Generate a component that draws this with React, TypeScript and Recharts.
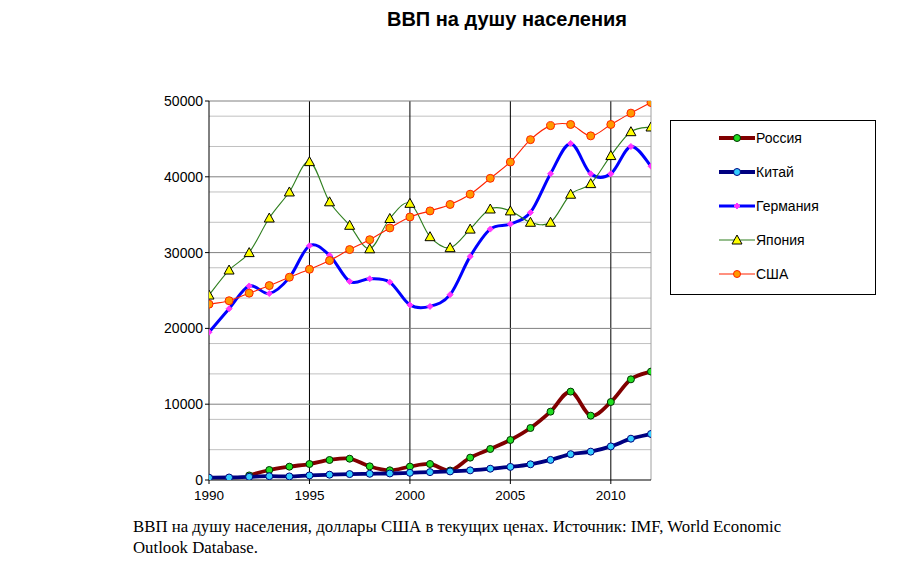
import React from "react";
import {
  LineChart,
  Line,
  XAxis,
  YAxis,
  CartesianGrid,
  ReferenceLine,
} from "recharts";

const years = [
  1990, 1991, 1992, 1993, 1994, 1995, 1996, 1997, 1998, 1999, 2000, 2001, 2002,
  2003, 2004, 2005, 2006, 2007, 2008, 2009, 2010, 2011, 2012,
];
const russia = [
  null, null, 600, 1320, 1760, 2110, 2640, 2810, 1800, 1280, 1770, 2110, 1250,
  2950, 4090, 5280, 6860, 9020, 11660, 8490, 10290, 13280, 14300,
];
const china = [
  310, 330, 420, 500, 470, 600, 700, 780, 820, 860, 950, 1040, 1130, 1270, 1490,
  1730, 2070, 2650, 3410, 3740, 4430, 5450, 6070,
];
const germany = [
  19500, 22600, 25600, 24600, 26700, 30900, 29650, 26200, 26550, 26100, 23100,
  22900, 24450, 29500, 33100, 33770, 35300, 40400, 44400, 40400, 40400, 44000,
  41400,
];
const japan = [
  24400, 27700, 30000, 34560, 38000, 42000, 36700, 33600, 30500, 34500, 36500,
  32100, 30650, 33100, 35750, 35500, 34000, 34000, 37700, 39100, 42800, 45950,
  46570,
];
const usa = [
  23200, 23650, 24650, 25650, 26750, 27800, 28950, 30400, 31700, 33250, 34700,
  35500, 36350, 37700, 39800, 41950, 44900, 46750, 46900, 45400, 46900, 48400,
  49800,
];

const xTicks = [1990, 1995, 2000, 2005, 2010];
const yTicks = [0, 10000, 20000, 30000, 40000, 50000];
const minorGrid = [
  2000, 4000, 6000, 8000, 12000, 14000, 16000, 18000, 22000, 24000, 26000,
  28000, 32000, 34000, 36000, 38000, 42000, 44000, 46000, 48000,
];
const majorGrid = [10000, 20000, 30000, 40000, 50000];

const seriesNames = ["Россия", "Китай", "Германия", "Япония", "США"];
const title = "ВВП на душу населения";
const caption1 =
  "ВВП на душу населения, доллары США в текущих ценах. Источник: IMF, World Economic";
const caption2 = "Outlook Database.";

const data = years.map((y, i) => ({
  year: y,
  russia: russia[i],
  china: china[i],
  germany: germany[i],
  japan: japan[i],
  usa: usa[i],
}));

// Catmull-Rom (Excel-like smoothing) curve factory
function smoothCurve(context: any) {
  let pts: number[][] = [];
  return {
    areaStart() {},
    areaEnd() {},
    lineStart() {
      pts = [];
    },
    lineEnd() {
      const n = pts.length;
      if (n === 0) return;
      context.moveTo(pts[0][0], pts[0][1]);
      if (n === 1) return;
      for (let i = 0; i < n - 1; i++) {
        const p0 = pts[i - 1] || pts[i];
        const p1 = pts[i];
        const p2 = pts[i + 1];
        const p3 = pts[i + 2] || pts[i + 1];
        const c1x = p1[0] + (p2[0] - p0[0]) / 6;
        const c1y = p1[1] + (p2[1] - p0[1]) / 6;
        const c2x = p2[0] - (p3[0] - p1[0]) / 6;
        const c2y = p2[1] - (p3[1] - p1[1]) / 6;
        context.bezierCurveTo(c1x, c1y, c2x, c2y, p2[0], p2[1]);
      }
    },
    point(x: number, y: number) {
      pts.push([+x, +y]);
    },
  };
}

const circleDot = (fill: string, stroke: string, r: number) => (props: any) => {
  const { cx, cy, index, value } = props;
  if (cx == null || cy == null || value == null) return <g key={index} />;
  return (
    <circle
      key={index}
      cx={cx}
      cy={cy}
      r={r}
      fill={fill}
      stroke={stroke}
      strokeWidth={1}
    />
  );
};

const diamondDot = (props: any) => {
  const { cx, cy, index } = props;
  if (cx == null || cy == null) return <g key={index} />;
  const s = 3;
  return (
    <path
      key={index}
      d={`M${cx},${cy - s}L${cx + s},${cy}L${cx},${cy + s}L${cx - s},${cy}Z`}
      fill="#ff33ff"
      stroke="#ff33ff"
      strokeWidth={1}
    />
  );
};

const triangleDot = (props: any) => {
  const { cx, cy, index } = props;
  if (cx == null || cy == null) return <g key={index} />;
  return (
    <path
      key={index}
      d={`M${cx},${cy - 5}L${cx + 5},${cy + 4}L${cx - 5},${cy + 4}Z`}
      fill="#ffff00"
      stroke="#000000"
      strokeWidth={1}
    />
  );
};

const series = [
  { key: "russia", name: seriesNames[0], stroke: "#800000", width: 3.8, dot: circleDot("#22dd22", "#003300", 3.5), icon: "circle", fill: "#22dd22", iconStroke: "#003300" },
  { key: "china", name: seriesNames[1], stroke: "#000080", width: 3.8, dot: circleDot("#33ccff", "#000080", 3.5), icon: "circle", fill: "#33ccff", iconStroke: "#000080" },
  { key: "germany", name: seriesNames[2], stroke: "#0000ff", width: 3, dot: diamondDot, icon: "diamond", fill: "#ff33ff", iconStroke: "#ff33ff" },
  { key: "japan", name: seriesNames[3], stroke: "#2f7f1f", width: 1.1, dot: triangleDot, icon: "triangle", fill: "#ffff00", iconStroke: "#000000" },
  { key: "usa", name: seriesNames[4], stroke: "#ff2200", width: 1.1, dot: circleDot("#ff9900", "#ff2200", 4), icon: "circle", fill: "#ff9900", iconStroke: "#ff2200" },
];

const LegendBox = () => (
  <div
    style={{
      position: "absolute",
      left: 670,
      top: 120,
      width: 206,
      height: 175,
      border: "1px solid #000",
      background: "#fff",
      boxSizing: "border-box",
    }}
  >
    {series.map((s, i) => (
      <div
        key={s.key}
        style={{
          position: "absolute",
          left: 47,
          top: 7 + i * 34,
          height: 20,
          display: "flex",
          alignItems: "center",
        }}
      >
        <svg width={38} height={20}>
          <line x1={1} y1={10} x2={37} y2={10} stroke={s.stroke} strokeWidth={s.width} />
          {s.icon === "circle" && (
            <circle cx={19} cy={10} r={3.5} fill={s.fill} stroke={s.iconStroke} />
          )}
          {s.icon === "diamond" && (
            <path d="M19,7L22,10L19,13L16,10Z" fill={s.fill} stroke={s.iconStroke} />
          )}
          {s.icon === "triangle" && (
            <path d="M19,5L24,14L14,14Z" fill={s.fill} stroke={s.iconStroke} />
          )}
        </svg>
        <span
          style={{
            fontFamily: "'Liberation Sans', Arial, sans-serif",
            fontSize: 14,
            color: "#000",
            marginLeft: 0,
          }}
        >
          {s.name}
        </span>
      </div>
    ))}
  </div>
);

export default function App() {
  return (
    <div
      style={{
        position: "absolute",
        left: 0,
        top: 0,
        width: 920,
        height: 573,
        background: "#fff",
        overflow: "hidden",
      }}
    >
      <div
        style={{
          position: "absolute",
          left: 0,
          top: 8,
          width: 1014,
          textAlign: "center",
          fontFamily: "'Liberation Sans', Arial, sans-serif",
          fontWeight: "bold",
          fontSize: 20,
          color: "#000",
        }}
      >
        {title}
      </div>
      <div style={{ position: "absolute", left: 0, top: 0 }}>
        <LineChart
          width={920}
          height={573}
          data={data}
          margin={{ top: 101, right: 269, bottom: 63, left: 149 }}
        >
          <CartesianGrid
            vertical={false}
            horizontalValues={minorGrid}
            stroke="#c0c0c0"
            strokeWidth={1}
          />
          <CartesianGrid
            horizontal={false}
            verticalValues={xTicks.slice(1)}
            stroke="#000000"
            strokeWidth={1}
          />
          {majorGrid.map((v) => (
            <ReferenceLine key={v} y={v} stroke="#808080" strokeWidth={1} />
          ))}
          <ReferenceLine x={2012} stroke="#a0a0a0" strokeWidth={1} />
          <XAxis
            dataKey="year"
            type="number"
            domain={[1990, 2012]}
            ticks={xTicks}
            height={30}
            stroke="#000"
            tickSize={4}
            dy={4}
            tick={{ fill: "#000", fontSize: 13.5, fontFamily: "'Liberation Sans', Arial, sans-serif" }}
            allowDataOverflow
          />
          <YAxis
            type="number"
            domain={[0, 50000]}
            ticks={yTicks}
            width={60}
            stroke="#000"
            tickSize={4}
            tick={{ fill: "#000", fontSize: 14, fontFamily: "'Liberation Sans', Arial, sans-serif" }}
            allowDataOverflow
          />
          {series.map((s) => (
            <Line
              key={s.key}
              dataKey={s.key}
              name={s.name}
              type={smoothCurve as any}
              stroke={s.stroke}
              strokeWidth={s.width}
              dot={s.dot}
              activeDot={false}
              isAnimationActive={false}
              connectNulls={false}
            />
          ))}
        </LineChart>
      </div>
      <LegendBox />
      <div
        style={{
          position: "absolute",
          left: 133,
          top: 516,
          fontFamily: "'Liberation Serif', 'Times New Roman', serif",
          fontSize: 16.8,
          lineHeight: "21px",
          color: "#000",
          whiteSpace: "nowrap",
        }}
      >
        {caption1}
        <br />
        {caption2}
      </div>
    </div>
  );
}
